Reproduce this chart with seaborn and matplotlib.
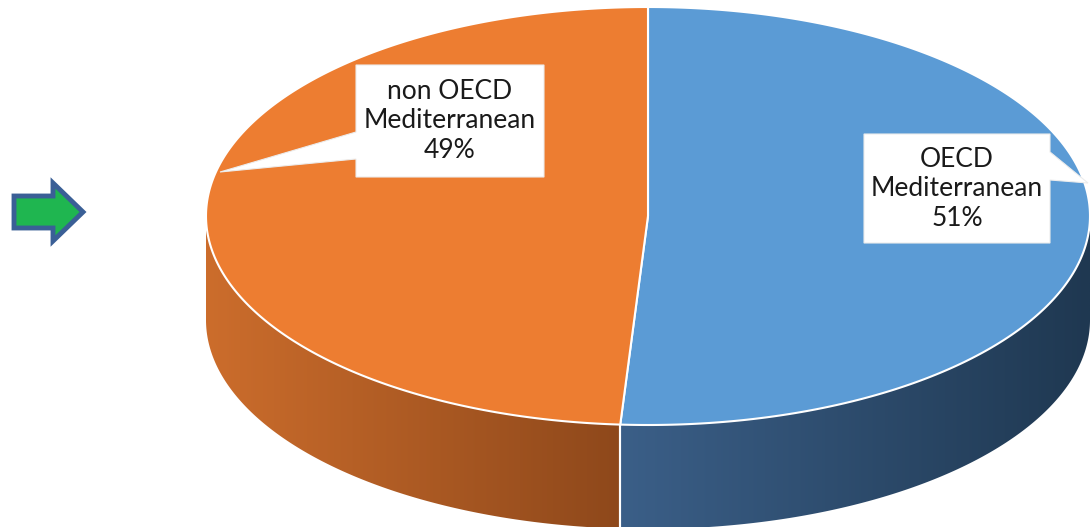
import numpy as np
import matplotlib
matplotlib.use("Agg")
import matplotlib.pyplot as plt
import seaborn as sns
from matplotlib.patches import Polygon
from matplotlib.colors import LinearSegmentedColormap

# ---- data ----
categories = ["OECD Mediterranean", "non OECD Mediterranean"]
labels = ["OECD\nMediterranean\n51%", "non OECD\nMediterranean\n49%"]
shares = [51, 49]

sns.set_theme(style="white")
plt.rcParams['font.family'] = ['Lato', 'DejaVu Sans']

top_colors = sns.color_palette(["#5B9BD5", "#ED7D31"])
side_grad = [["#3b5f88", "#1f3851"], ["#cc6d2c", "#8e481b"]]  # (left, right) for each slice side

fig = plt.figure(figsize=(10.9, 5.27), dpi=100)
ax = fig.add_axes([0, 0, 1, 1])
ax.set_xlim(0, 1090)
ax.set_ylim(527, 0)
ax.axis("off")

# pie geometry (layout)
cx, cy, a, b, depth = 648, 216, 442, 209, 104

def proj(theta_deg, dz=0):
    t = np.radians(theta_deg)
    return cx + a * np.cos(t), cy - b * np.sin(t) + dz

total = float(sum(shares))
start = 90.0
spans = []
for v in shares:
    ext = 360.0 * v / total
    spans.append((start - ext, start))  # clockwise
    start -= ext

# sides (visible front part: sin < 0)
for i, (t0, t1) in enumerate(spans):
    segs = []
    for shift in (0, -360, 360):
        l, h = t0 + shift, t1 + shift
        vl, vh = max(l, -180), min(h, 0)
        if vh > vl:
            segs.append((vl, vh))
    for vl, vh in segs:
        th = np.linspace(vl, vh, 200)
        xt, yt = proj(th)
        xb, yb = proj(th, depth)
        pts = np.column_stack([np.concatenate([xt, xb[::-1]]), np.concatenate([yt, yb[::-1]])])
        poly = Polygon(pts, closed=True, facecolor="none", edgecolor="none")
        ax.add_patch(poly)
        cmap = LinearSegmentedColormap.from_list("g%d" % i, side_grad[i])
        grad = np.linspace(0, 1, 256).reshape(1, -1)
        im = ax.imshow(grad, cmap=cmap, aspect="auto",
                       extent=[pts[:, 0].min(), pts[:, 0].max(), pts[:, 1].max(), pts[:, 1].min()],
                       zorder=1)
        im.set_clip_path(poly)
        for tt in (vl, vh):
            if -179 < tt < -1:
                x0, y0 = proj(tt)
                x1, y1 = proj(tt, depth)
                ax.plot([x0, x1], [y0, y1], color="white", lw=1.5, zorder=2)

# top faces
for i, (t0, t1) in enumerate(spans):
    th = np.linspace(t0, t1, 300)
    xt, yt = proj(th)
    pts = np.column_stack([np.concatenate([[cx], xt]), np.concatenate([[cy], yt])])
    ax.add_patch(Polygon(pts, closed=True, facecolor=top_colors[i], edgecolor="white",
                         lw=1.5, zorder=3))

# callouts
callouts = [
    ([(864, 134), (1050, 134), (1050, 152), (1088, 183), (1050, 180), (1050, 243), (864, 243)],
     (957, 189)),
    ([(356, 65), (544, 65), (544, 177), (356, 177), (356, 159), (220, 172), (356, 132)],
     (450, 121)),
]
for (shape, (tx, ty)), lab in zip(callouts, labels):
    ax.add_patch(Polygon(shape, closed=True, facecolor="white", edgecolor="#ececec",
                         lw=0.8, zorder=4))
    ax.text(tx, ty, lab, ha="center", va="center", fontsize=19, color="#1a1a1a",
            linespacing=1.22, zorder=5)

# green arrow
arrow = [(14, 196), (53, 196), (53, 183), (83, 212), (53, 241), (53, 228), (14, 228)]
ax.add_patch(Polygon(arrow, closed=True, facecolor="#1fb650", edgecolor="#3a5f96",
                     lw=3.5, joinstyle="miter", zorder=5))

fig.savefig("out.png", dpi=100)
